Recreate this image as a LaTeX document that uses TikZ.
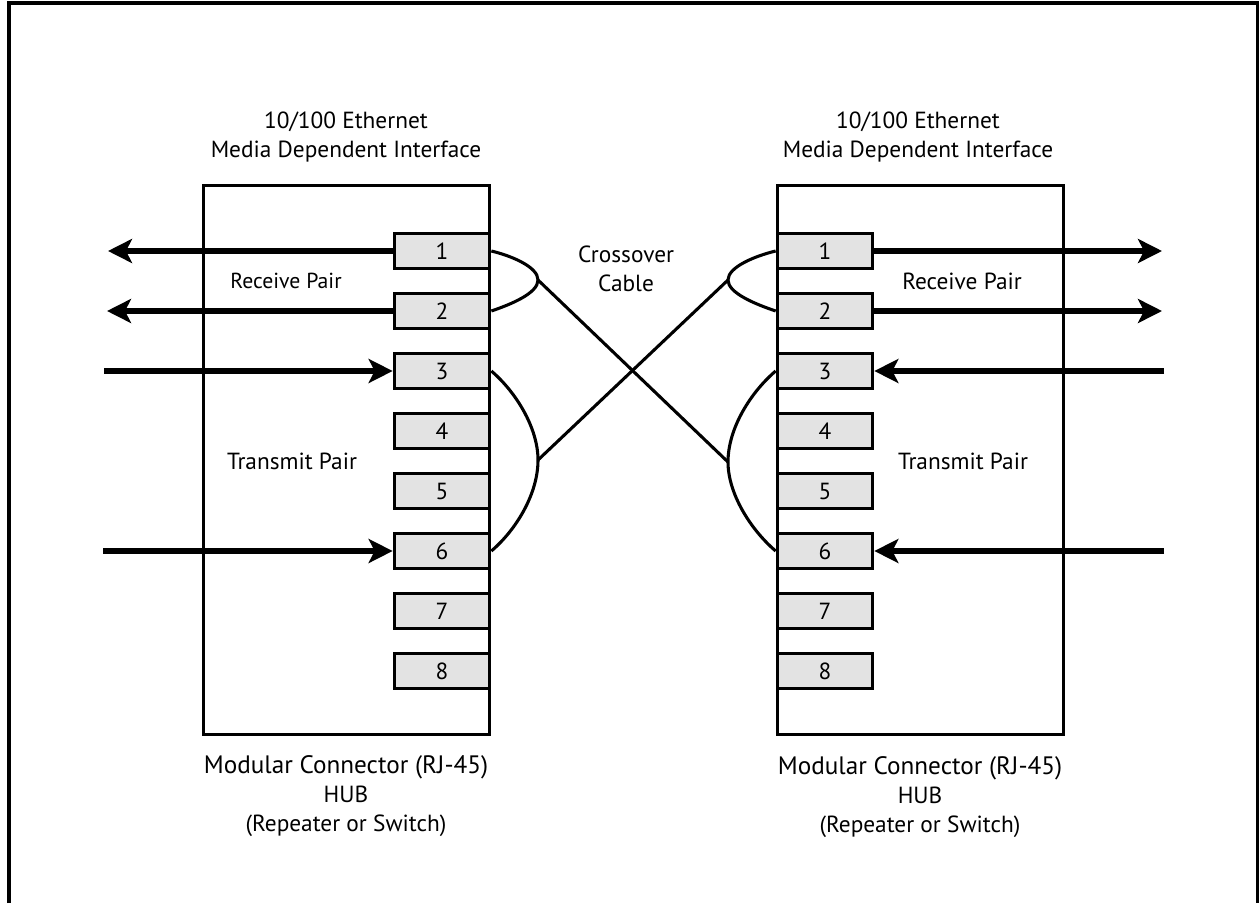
\documentclass[tikz,border=0pt]{standalone}
\usepackage{fontspec}
\setmainfont{PT Sans}
\usetikzlibrary{arrows.meta}
\tikzset{
 wire/.style={black,line width=2.3pt},
 pair/.style={black,line width=3.8pt,>={Stealth[length=18pt,width=18pt,inset=4.5pt]}},
 pin/.style={draw=black,line width=2.4pt,fill=black!11,minimum width=71.6pt,minimum height=26.6pt,inner sep=0,font=\fontsize{17.5}{21}\selectfont},
 hub/.style={draw=black,line width=2.2pt,minimum width=215pt,minimum height=412pt,inner sep=0},
 caption/.style={align=center,font=\fontsize{17.5}{21.8}\selectfont,inner sep=0},
 pairtext/.style={caption,font=\fontsize{16.3}{21.8}\selectfont},
}
\newcommand{\wideline}[1]{{\fontsize{18.9}{21.8}\selectfont #1}}
\begin{document}
\begin{tikzpicture} [x=.75pt,y=-.75pt]
\useasboundingbox (0,0) rectangle (1259,903);
\coordinate (TL) at (9,3);
\coordinate (TR) at (1258,3);
\draw[black,line width=3pt] (9,903)--(TL)--(TR)--(1258,903);
\node[hub] (hubL) at (346.5,460) {};
\node[hub] (hubR) at (920.5,460) {};
\foreach \x in {1,...,8} {
 \node[pin] (pinL\x) at (442,191+60*\x) {\x};
 \node[pin] (pinR\x) at (825,191+60*\x) {\x};
}
% outer ends of the thick arrows
\coordinate (outL1) at (108,251);
\coordinate (outL2) at (107,311);
\coordinate (outL3) at (104,371);
\coordinate (outL6) at (103,551);
\coordinate (outR1) at (1162,251);
\coordinate (outR2) at (1162,311);
\coordinate (outR3) at (1164,371);
\coordinate (outR6) at (1164,551);
\foreach \x in {1,2} {
 \draw[pair,->] (pinL\x.west)--(outL\x);
 \draw[pair,->] (pinR\x.east)--(outR\x);
}
\foreach \x in {3,6} {
 \draw[pair,->] (outL\x)--(pinL\x.west);
 \draw[pair,->] (outR\x)--(pinR\x.east);
}
% forks of the crossover cable
\coordinate (forkLa) at (538,280);
\coordinate (forkLb) at (538,460);
\coordinate (forkRa) at (728,280);
\coordinate (forkRb) at (728,462);
\draw[wire] (pinL1.east) .. controls (512,256) and (538,267) .. (forkLa) .. controls (538,293) and (512,304) .. (pinL2.east);
\draw[wire] (pinL3.east) .. controls (516,392) and (538,428) .. (forkLb) .. controls (538,494) and (516,530) .. (pinL6.east);
\draw[wire] (pinR1.west) .. controls (755,256) and (728,267) .. (forkRa) .. controls (728,293) and (755,304) .. (pinR2.west);
\draw[wire] (pinR3.west) .. controls (751,392) and (728,428) .. (forkRb) .. controls (728,494) and (751,530) .. (pinR6.west);
\draw[wire] (forkLa)--(forkRb);
\draw[wire] (forkLb)--(forkRa);
\node[caption] (topL) at (346,137) {10/100 Ethernet\\Media Dependent Interface};
\node[caption] (topR) at (918,137) {10/100 Ethernet\\Media Dependent Interface};
\node[pairtext] (rxL) at (286,281) {Receive Pair};
\node[caption] (rxR) at (962,281) {Receive Pair};
\node[caption] (txL) at (292,461) {Transmit Pair};
\node[caption] (txR) at (963,461) {Transmit Pair};
\node[caption] (cross) at (626,269) {Crossover\\Cable};
\node[caption] (botL) at (346,796) {\wideline{Modular Connector (RJ-45)}\\HUB\\(Repeater or Switch)};
\node[caption] (botR) at (920,797) {\wideline{Modular Connector (RJ-45)}\\HUB\\(Repeater or Switch)};
\end{tikzpicture}
\end{document}
